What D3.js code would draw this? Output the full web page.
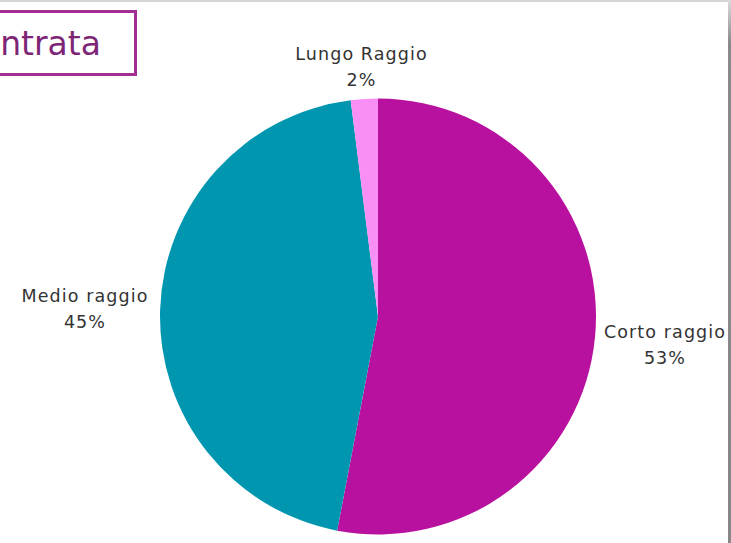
<!DOCTYPE html>
<html><head><meta charset="utf-8">
<script src="https://cdn.jsdelivr.net/npm/d3@7/dist/d3.min.js"></script>
<style>html,body{margin:0;padding:0;background:#fff;overflow:hidden}</style>
</head><body>
<svg id="c" width="731" height="543"></svg>
<script>
const categories = ["Corto raggio", "Medio raggio", "Lungo Raggio"];
const values = [53, 45, 2];
const valueLabels = ["53%", "45%", "2%"];
const colors = ["#B9119F", "#0096B0", "#F98EF4"];
const titleText = "ntrata";

const svg = d3.select("#c");
const defs = svg.append("defs");
const g1 = defs.append("linearGradient").attr("id","edge").attr("x1",0).attr("y1",0).attr("x2",0).attr("y2",1);
g1.append("stop").attr("offset","0%").attr("stop-color","#dcdcdc");
g1.append("stop").attr("offset","8%").attr("stop-color","#8a8a8a");
g1.append("stop").attr("offset","100%").attr("stop-color","#878787");

svg.append("rect").attr("x",0).attr("y",0).attr("width",729).attr("height",2).attr("fill","#d5d5d5");
svg.append("rect").attr("x",728).attr("y",0).attr("width",3).attr("height",543).attr("fill","url(#edge)");

// title box
svg.append("rect").attr("x",-10).attr("y",11.5).attr("width",145.5).attr("height",63)
  .attr("fill","none").attr("stroke","#A22D93").attr("stroke-width",3);
svg.append("text").attr("x",101).attr("y",55).attr("text-anchor","end")
  .attr("font-family","'DejaVu Sans', sans-serif").attr("font-size",33).attr("fill","#7E2676")
  .text(titleText);

const cx = 378, cy = 316.5, r = 218;
const pie = d3.pie().sort(null).value(d => d)(values);
const arc = d3.arc().innerRadius(0).outerRadius(r);
const gp = svg.append("g").attr("transform",`translate(${cx},${cy})`);
gp.selectAll("path").data(pie).join("path").attr("d",arc).attr("fill",(d,i)=>colors[i]);

const labelPos = [[665,338],[85,302],[361.5,60]];
const lg = svg.append("g").attr("font-family","'DejaVu Sans', sans-serif").attr("font-size",17.5)
  .attr("letter-spacing",1.1).attr("fill","#333").attr("text-anchor","middle");
categories.forEach((c,i)=>{
  const t = lg.append("text").attr("x",labelPos[i][0]).attr("y",labelPos[i][1]);
  t.append("tspan").attr("x",labelPos[i][0]).text(c);
  t.append("tspan").attr("x",labelPos[i][0]).attr("dy",26).text(valueLabels[i]);
});
</script>
</body></html>
